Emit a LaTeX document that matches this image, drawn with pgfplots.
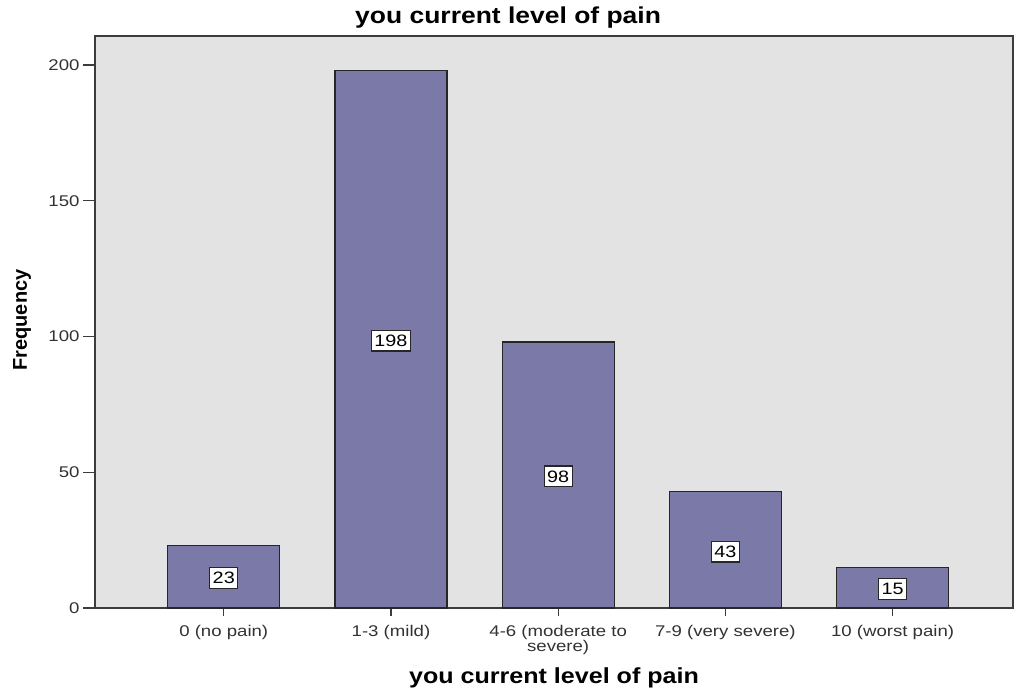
\documentclass[border=0pt]{standalone}
\usepackage{pgfplots}
\pgfplotsset{compat=1.18}
\usepackage{fontspec}
\setmainfont{Liberation Sans}[FakeStretch=1.2]
\newfontfamily\titlefont{Liberation Sans}[FakeStretch=1.15]
\newfontfamily\ylabfont{Liberation Sans}
\definecolor{bgray}{RGB}{227,227,227}
\definecolor{barc}{RGB}{122,121,168}
\definecolor{axc}{RGB}{60,60,60}
\definecolor{tickc}{RGB}{50,50,50}
\begin{document}
\begin{tikzpicture}
\begin{axis}[
  name=ax,
  scale only axis,
  width=918pt, height=572pt,
  xmin=-0.77, xmax=4.72,
  ymin=0, ymax=210.7,
  xtick={0,1,2,3,4},
  xticklabels={0 (no pain),1-3 (mild),{4-6 (moderate to\\severe)},7-9 (very severe),10 (worst pain)},
  ytick={0,50,100,150,200},
  tick align=outside,
  xtick pos=bottom, ytick pos=left,
  major tick length=12pt,
  x tick style={/pgfplots/major tick length=8pt},
  tick style={axc, line width=1.3pt},
  axis line style={axc, line width=1.6pt},
  axis background/.style={fill=bgray},
  xticklabel style={font=\fontsize{15.5}{15}\selectfont, text=tickc, align=center, yshift=-2pt},
  yticklabel style={font=\fontsize{15.5}{15}\selectfont, text=tickc},
  /pgf/number format/assume math mode=true,
  clip=false,
]
\addplot[ybar, bar width=112pt, fill=barc, draw=black!85, line width=1.3pt] coordinates {(0,23) (1,198) (2,98) (3,43) (4,15)};
\addplot[draw=none, mark=none, nodes near coords, point meta=explicit symbolic,
  every node near coord/.style={anchor=center, fill=white, draw=black!85, line width=1.3pt, inner xsep=3pt, inner ysep=4.5pt, font=\fontsize{16.5}{16}\selectfont}]
  coordinates {(0,11)[23] (1,98.5)[198] (2,48.5)[98] (3,20.8)[43] (4,7)[15]};
\node[font=\titlefont\bfseries\fontsize{23}{23}\selectfont] at (axis description cs:0.45,1.0315) {you current level of pain};
\node[font=\titlefont\bfseries\fontsize{21.8}{22}\selectfont] at (axis description cs:0.5,-0.1224) {you current level of pain};
\node[font=\ylabfont\bfseries\fontsize{20}{20}\selectfont, rotate=90] at (axis description cs:-0.0795,0.5035) {Frequency};
\end{axis}
\pgfresetboundingbox
\path[use as bounding box] (ax.south west) ++(-95pt,-84pt) rectangle ++(1016pt,692pt);
\end{tikzpicture}
\end{document}
